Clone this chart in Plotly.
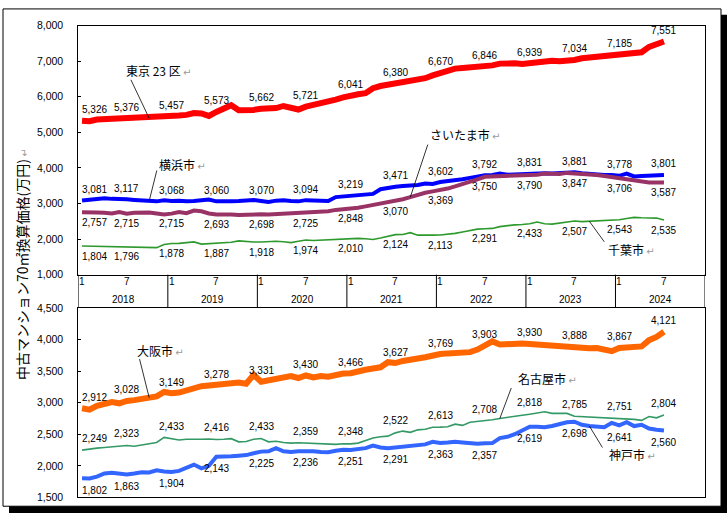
import plotly.graph_objects as go

W, H = 728, 522

# ---------------- data (monthly, Jan 2018 – Jul 2024) ----------------
years = [2018, 2019, 2020, 2021, 2022, 2023, 2024]
labelled_months = [1, 7]

tokyo = [5326, 5310, 5360, 5370, 5365, 5370, 5376, 5390, 5400, 5395, 5410, 5440,
         5457, 5470, 5490, 5540, 5530, 5460, 5573, 5650, 5760, 5620, 5610, 5630,
         5662, 5660, 5680, 5740, 5680, 5640, 5721, 5760, 5800, 5850, 5920, 5980,
         6041, 6070, 6100, 6240, 6300, 6330, 6380, 6400, 6420, 6450, 6520, 6600,
         6670, 6740, 6790, 6810, 6820, 6830, 6846, 6880, 6930, 6950, 6940, 6920,
         6939, 6990, 7010, 7010, 7000, 7000, 7034, 7080, 7100, 7120, 7140, 7170,
         7185, 7220, 7240, 7250, 7400, 7480, 7551]
yokohama = [3081, 3110, 3140, 3150, 3130, 3110, 3117, 3100, 3080, 3070, 3060, 3090,
            3068, 3080, 3060, 3070, 3080, 3110, 3060, 3050, 3065, 3070, 3080, 3100,
            3070, 3040, 3080, 3090, 3070, 3060, 3094, 3080, 3060, 3070, 3180, 3200,
            3219, 3230, 3260, 3270, 3400, 3440, 3471, 3490, 3500, 3520, 3560, 3550,
            3602, 3620, 3650, 3680, 3720, 3760, 3792, 3800, 3840, 3810, 3820, 3825,
            3831, 3840, 3850, 3840, 3860, 3870, 3881, 3850, 3830, 3810, 3800, 3800,
            3778, 3840, 3760, 3770, 3780, 3790, 3801]
saitama = [2757, 2740, 2750, 2740, 2720, 2760, 2715, 2740, 2750, 2745, 2720, 2690,
           2715, 2760, 2730, 2800, 2780, 2720, 2693, 2700, 2690, 2680, 2690, 2700,
           2698, 2690, 2700, 2710, 2720, 2715, 2725, 2740, 2750, 2780, 2820, 2840,
           2848, 2880, 2920, 2960, 2990, 3040, 3070, 3120, 3180, 3250, 3300, 3340,
           3369, 3420, 3480, 3540, 3600, 3680, 3750, 3760, 3770, 3780, 3780, 3785,
           3790, 3810, 3840, 3830, 3830, 3860, 3847, 3850, 3840, 3800, 3770, 3740,
           3706, 3690, 3660, 3620, 3590, 3590, 3587]
chiba = [1804, 1800, 1810, 1805, 1800, 1795, 1796, 1790, 1785, 1780, 1760, 1850,
         1878, 1880, 1890, 1920, 1860, 1870, 1887, 1900, 1910, 1950, 1930, 1920,
         1918, 1930, 1940, 1925, 1900, 1940, 1974, 1960, 1970, 1990, 2000, 2010,
         2010, 2020, 2010, 1990, 2030, 2080, 2124, 2130, 2180, 2110, 2100, 2110,
         2113, 2130, 2160, 2200, 2240, 2280, 2291, 2300, 2350, 2380, 2400, 2410,
         2433, 2480, 2430, 2420, 2450, 2480, 2507, 2490, 2500, 2500, 2520, 2530,
         2543, 2580, 2610, 2600, 2590, 2590, 2535]
osaka = [2912, 2890, 2950, 2990, 3010, 2990, 3028, 3040, 3060, 3080, 3100, 3170,
         3149, 3160, 3200, 3230, 3260, 3270, 3278, 3290, 3310, 3320, 3300, 3440,
         3331, 3350, 3380, 3400, 3420, 3390, 3430, 3400, 3420, 3410, 3440, 3460,
         3466, 3500, 3520, 3540, 3560, 3640, 3627, 3660, 3690, 3700, 3720, 3750,
         3769, 3780, 3780, 3790, 3800, 3840, 3903, 3970, 3920, 3930, 3940, 3935,
         3930, 3920, 3910, 3905, 3900, 3895, 3888, 3880, 3860, 3865, 3850, 3815,
         3867, 3870, 3870, 3890, 3990, 4040, 4121]
nagoya = [2249, 2270, 2280, 2290, 2300, 2310, 2323, 2310, 2330, 2350, 2370, 2450,
          2433, 2410, 2420, 2415, 2420, 2425, 2416, 2420, 2430, 2380, 2385, 2420,
          2433, 2380, 2390, 2370, 2360, 2365, 2359, 2350, 2345, 2340, 2340, 2350,
          2348, 2360, 2400, 2440, 2460, 2470, 2522, 2550, 2530, 2570, 2580, 2610,
          2613, 2620, 2660, 2640, 2690, 2700, 2708, 2730, 2750, 2770, 2790, 2800,
          2818, 2840, 2855, 2830, 2825, 2830, 2785, 2780, 2770, 2765, 2755, 2760,
          2751, 2745, 2735, 2720, 2780, 2760, 2804]
kobe = [1802, 1800, 1830, 1880, 1890, 1870, 1863, 1880, 1900, 1895, 1930, 1910,
        1904, 1920, 1970, 2020, 1960, 2000, 2143, 2140, 2150, 2160, 2170, 2200,
        2225, 2230, 2280, 2230, 2220, 2230, 2236, 2230, 2220, 2215, 2240, 2255,
        2251, 2260, 2280, 2320, 2290, 2280, 2291, 2300, 2310, 2320, 2340, 2380,
        2363, 2370, 2380, 2370, 2360, 2350, 2357, 2360, 2440, 2460, 2500, 2560,
        2619, 2620, 2610, 2630, 2660, 2690, 2698, 2650, 2630, 2620, 2610, 2680,
        2641, 2690, 2630, 2650, 2590, 2570, 2560]

# ---------------- helpers ----------------
def px(x):
    return x / W


def py(y):
    return 1 - y / H


FONT = "Liberation Sans, Noto Sans CJK JP, DejaVu Sans, sans-serif"
JFONT = "Noto Sans CJK JP, DejaVu Sans, sans-serif"
RET = "<span style='color:#9a9a9a;font-size:10px'> ↵</span>"

n = len(tokyo)
idx = list(range(n))
cal_month = [i % 12 + 1 for i in idx]

# name, data, color, width, label yshift, panel, name-note (point idx, text xshift, yshift, arrow ax, ay)
series = [
    ("東京 23 区", tokyo, "#FF0000", 6, 11, "top", (9, -25, 48, -19, -40)),
    ("横浜市", yokohama, "#0000FF", 4, 11, "top", (9, 8, 37, 8, -32)),
    ("さいたま市", saitama, "#993366", 4, -10, "top", (44, 18, 63, 18, -54)),
    ("千葉市", chiba, "#2E9A2E", 1.6, -10, "top", (68, 17, -28, 16, 22)),
    ("大阪市", osaka, "#FF6600", 6, 11, "bot", (9, -14, 47, -10, -40)),
    ("名古屋市", nagoya, "#339966", 1.6, 12, "bot", (56, 16, 40, 12, -32)),
    ("神戸市", kobe, "#3366FF", 4, -12, "bot", (68, 18, -28, 14, 23)),
]

fig = go.Figure()
annotations = []

for name, vals, color, width, shift, panel, note in series:
    xa, ya = ("x2", "y2") if panel == "top" else ("x", "y")
    fig.add_trace(go.Scatter(x=idx, y=vals, mode="lines", name=name,
                             line=dict(color=color, width=width),
                             xaxis=xa, yaxis=ya, hoverinfo="skip"))
    for i in idx:
        if cal_month[i] in labelled_months:
            first = i == 0
            annotations.append(dict(
                x=i, y=vals[i], xref=xa, yref=ya, text=f"{vals[i]:,}",
                showarrow=False, xanchor="left" if first else "center",
                xshift=-2 if first else 0, yshift=shift, yanchor="middle",
                font=dict(family=FONT, size=10, color="black")))
    k, tx, ty, ax, ay = note
    annotations.append(dict(x=k, y=vals[k], xref=xa, yref=ya, text=name + RET,
                            showarrow=False, xanchor="left", yanchor="middle",
                            xshift=tx, yshift=ty,
                            font=dict(family=JFONT, size=12, color="black")))
    annotations.append(dict(x=k, y=vals[k], xref=xa, yref=ya, text="",
                            showarrow=True, arrowhead=0, arrowwidth=0.8,
                            arrowcolor="black", standoff=0, ax=ax, ay=ay))

# month / year header between the panels
for j, yr in enumerate(years):
    for mth in labelled_months:
        annotations.append(dict(x=j * 12 + mth - 1, y=py(282), xref="x", yref="paper",
                                text=str(mth), showarrow=False,
                                font=dict(family=FONT, size=10, color="black")))
    annotations.append(dict(x=j * 12 + 5.5, y=py(300), xref="x", yref="paper",
                            text=str(yr), showarrow=False,
                            font=dict(family=FONT, size=10, color="black")))

# y-axis title
annotations.append(dict(x=px(22), y=py(264), xref="paper", yref="paper",
                        xanchor="center", yanchor="middle",
                        text="中古マンション70㎡換算価格(万円)" + RET,
                        textangle=-90, showarrow=False,
                        font=dict(family=JFONT, size=14, color="black")))

shapes = []
for j in range(len(years) + 1):
    shapes.append(dict(type="line", xref="x", yref="paper",
                       x0=j * 12 - 0.5, x1=j * 12 - 0.5, y0=py(309), y1=py(275),
                       line=dict(color="black", width=1)))
# outer frame and its shadow
shapes.append(dict(type="rect", xref="paper", yref="paper", x0=px(721), x1=px(727),
                   y0=py(519), y1=py(9), fillcolor="black", line=dict(width=0)))
shapes.append(dict(type="rect", xref="paper", yref="paper", x0=px(9), x1=px(727),
                   y0=py(519), y1=py(512), fillcolor="black", line=dict(width=0)))
shapes.append(dict(type="rect", xref="paper", yref="paper", x0=px(3), x1=px(721),
                   y0=py(512), y1=py(3), line=dict(color="black", width=1)))

xdom = [px(78.3), px(705)]
axis_common = dict(showline=True, mirror=True, linecolor="black", linewidth=1,
                   showgrid=False, zeroline=False)
yaxis_common = dict(axis_common, ticks="inside", ticklen=3, tickcolor="black",
                    tickformat=",", ticklabelstandoff=12,
                    tickfont=dict(family=FONT, size=10.5, color="black"))

fig.update_layout(
    width=W, height=H,
    margin=dict(l=0, r=0, t=0, b=0),
    paper_bgcolor="white", plot_bgcolor="white",
    showlegend=False,
    xaxis=dict(axis_common, domain=xdom, range=[-0.5, 83.5], anchor="y",
               showticklabels=False, ticks=""),
    xaxis2=dict(axis_common, domain=xdom, range=[-0.5, 83.5], anchor="y2",
                showticklabels=False, ticks="", matches="x"),
    yaxis=dict(yaxis_common, domain=[py(503), py(309)], range=[1500, 4500],
               dtick=500, anchor="x"),
    yaxis2=dict(yaxis_common, domain=[py(275), py(20)], range=[1000, 8000],
                dtick=1000, anchor="x2"),
    annotations=annotations,
    shapes=shapes,
)

fig.write_html("out.html", config={"displayModeBar": False},
               post_script="document.body.style.margin='0';document.body.style.overflow='hidden';")
